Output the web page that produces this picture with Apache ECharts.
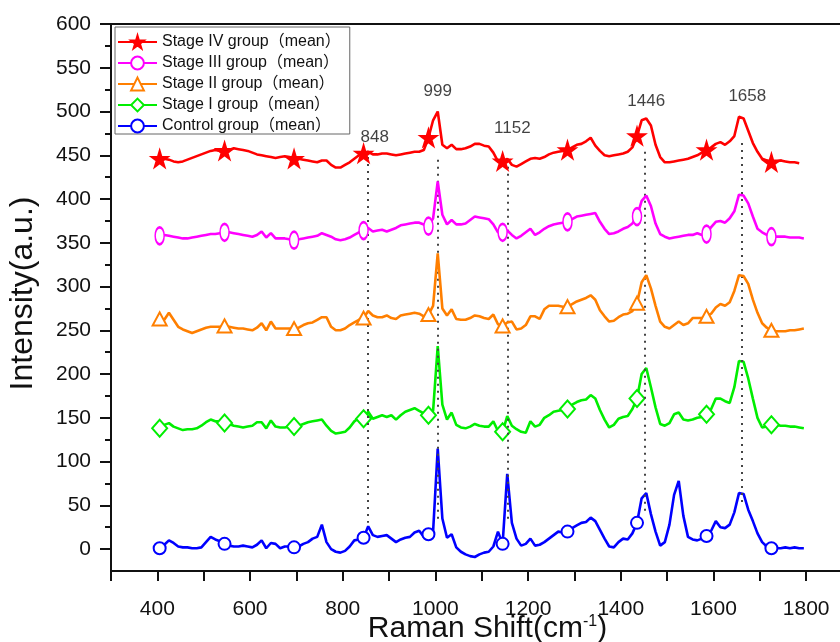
<!DOCTYPE html>
<html><head><meta charset="utf-8">
<script src="https://cdn.jsdelivr.net/npm/echarts@6/dist/echarts.min.js"></script>
<style>html,body{margin:0;padding:0;background:#fff}#c{width:840px;height:642px}</style>
</head><body><div id="c"></div>
<script>
// Raman shift sample positions (cm-1)
const shift = [
405,415,425,435,445,455,465,475,485,495,
505,515,525,535,545,555,565,575,585,595,
605,615,625,635,645,655,665,675,685,695,
705,715,725,735,745,755,765,775,785,795,
805,815,825,835,845,855,865,875,885,895,
905,915,925,935,945,955,965,975,985,995,
1005,1015,1025,1035,1045,1055,1065,1075,1085,1095,
1105,1115,1125,1135,1145,1155,1165,1175,1185,1195,
1205,1215,1225,1235,1245,1255,1265,1275,1285,1295,
1305,1315,1325,1335,1345,1355,1365,1375,1385,1395,
1405,1415,1425,1435,1445,1455,1465,1475,1485,1495,
1505,1515,1525,1535,1545,1555,1565,1575,1585,1595,
1605,1615,1625,1635,1645,1655,1665,1675,1685,1695,
1705,1715,1725,1735,1745,1755,1765,1775,1785,1795];

const stageIV = [
446,446,445,443,442,443,445,447,449,451,
453,455,456,455,455,456,458,457,456,455,
453,451,450,449,448,447,448,449,448,446,
446,445,444,443,442,444,444,439,436,436,
439,442,446,450,452,454,451,451,452,452,
451,450,451,452,453,454,454,456,470,490,
500,462,458,462,457,457,458,460,463,463,
461,460,453,443,443,446,439,437,440,443,
446,447,446,448,451,453,454,455,456,459,
462,463,466,470,461,455,450,449,450,451,
452,454,459,472,490,492,484,462,448,442,
442,443,444,445,446,448,450,453,456,459,
463,465,462,466,472,494,492,478,464,454,
446,444,442,443,444,443,442,442,441,null];

const stageIII = [
358,359,358,357,356,355,355,356,357,358,
359,360,360,361,362,362,361,360,359,358,
357,359,363,356,361,355,355,355,354,353,
354,355,356,357,358,361,359,357,354,353,
354,356,359,362,364,367,363,364,365,363,
365,367,370,371,372,373,373,371,369,378,
420,382,371,376,371,371,372,376,380,379,
378,377,371,362,362,364,359,355,358,362,
366,359,362,366,369,371,372,373,374,377,
380,381,382,383,384,374,366,360,361,363,
366,368,372,380,398,404,392,372,360,357,
355,356,357,358,359,359,361,359,360,368,
374,375,373,378,386,405,404,395,380,366,
362,359,357,357,357,357,356,356,356,355];

const stageII = [
263,262,270,262,254,251,249,247,249,251,
253,254,254,254,255,254,253,252,252,251,
250,253,258,250,260,252,252,252,252,252,
253,256,258,259,262,265,265,254,250,250,
252,256,259,262,264,272,267,265,265,267,
264,263,267,268,269,270,269,266,268,278,
338,275,267,274,263,262,262,264,267,266,
264,263,268,257,255,259,260,251,252,256,
266,266,263,274,278,278,278,277,277,280,
283,285,287,290,285,273,266,260,261,265,
268,269,272,281,305,313,298,278,260,254,
252,256,260,256,258,264,264,264,266,269,
276,280,278,282,295,313,312,303,285,270,
258,253,250,249,249,249,250,250,251,252];

const stageI = [
138,142,144,140,138,136,137,137,138,141,
145,148,146,146,144,143,141,140,139,140,
141,145,145,138,147,140,139,139,140,140,
141,143,145,146,147,148,141,135,132,133,
134,139,146,150,149,157,149,151,153,151,
153,148,153,157,159,161,158,155,153,158,
232,165,148,156,142,139,138,140,143,141,
140,140,146,135,134,152,141,137,134,133,
146,140,142,150,153,157,158,159,160,165,
168,170,171,176,172,159,148,139,142,149,
151,152,160,172,200,207,185,162,143,141,
144,154,156,148,147,148,150,151,154,160,
172,172,169,167,185,215,214,195,172,150,
139,140,142,142,141,141,140,140,139,138];

const control = [
1,5,10,7,3,2,2,1,1,2,
8,14,11,9,6,4,3,3,4,3,
2,5,10,1,7,6,1,3,3,2,
3,6,8,12,14,28,8,0,-3,-4,
-2,3,10,11,13,26,16,14,15,16,
12,8,11,13,14,19,21,14,17,20,
115,35,13,17,2,-3,-6,-8,-9,-6,
-4,-3,3,20,6,86,30,12,4,6,
12,4,5,8,12,16,20,19,20,24,
27,30,31,36,32,22,12,3,2,8,
12,11,18,30,58,64,40,20,4,8,
28,62,78,38,14,11,10,12,15,21,
32,25,24,28,42,64,63,45,32,18,
8,3,1,1,1,2,1,2,1,1];

const seriesNames = ['Stage IV group（mean）','Stage III group（mean）','Stage II group（mean）','Stage I group（mean）','Control group（mean）'];
const seriesColors = ['#ff0000','#ff00ff','#ff7f00','#00ee00','#0000ff'];
const markerIdx = [0,14,29,44,58,74,88,103,118,132];

const peakPos = [855,1006,1157,1452,1660];
const peakTop = [448,445,437,454,464];
const peakBottom = [30,30,33,41,50];
const peakText = ['848','999','1152','1446','1658'];
const peakLabelX = [869,1005,1166,1455,1673];
const peakLabelY = [471,523,481,512,517];

const yMajor = [0,50,100,150,200,250,300,350,400,450,500,550,600];
const yMinor = [25,75,125,175,225,275,325,375,425,475,525,575];
const xLabels = [400,600,800,1000,1200,1400,1600,1800];

const FONT = 'Liberation Sans, Arial, "Noto Sans CJK SC", sans-serif';
const STAR = 'path://M50,0 L61,35 L98,35 L68,57 L79,91 L50,70 L21,91 L32,57 L2,35 L39,35 Z';
const ELLIPSE = 'path://M50,0 C77.6,0 100,22.4 100,50 C100,77.6 77.6,100 50,100 C22.4,100 0,77.6 0,50 C0,22.4 22.4,0 50,0 Z';
const symbols = [STAR, ELLIPSE, 'path://M50,0 L100,90 L0,90 Z', 'path://M50,0 L100,50 L50,100 L0,50 Z', ELLIPSE];
const symbolSizes = [[16,16],[9,17],[14,13],[15,17],[12,12]];
const fills = ['#ff0000','#fff','#fff','#fff','#fff'];

const allVals = [stageIV, stageIII, stageII, stageI, control];

function build(vals){
  const out = [];
  vals.forEach((v,i)=>{
    if (v === null) return;
    if (markerIdx.indexOf(i) >= 0) out.push([shift[i], v]);
    else out.push({value:[shift[i], v], symbol:'none'});
  });
  return out;
}

const series = allVals.map((vals,k)=>({
  name: seriesNames[k], type:'line', data: build(vals),
  symbol: symbols[k], symbolSize: symbolSizes[k], showAllSymbol: true,
  symbolKeepAspect: false,
  lineStyle:{color: seriesColors[k], width: 2.6},
  itemStyle:{color: fills[k], borderColor: seriesColors[k], borderWidth: 2},
  emphasis:{disabled:true}, z: 3 + (4-k)
}));

series.push({
  type:'scatter', name:'peaks', symbol:'circle', symbolSize:0, silent:true,
  data: peakText.map((t,i)=>({value:[peakLabelX[i], peakLabelY[i]], name:t})),
  label:{show:true, position:'inside', formatter:'{b}', fontSize:17, color:'#111', fontFamily:FONT},
  markLine:{
    silent:true, symbol:['none','none'], label:{show:false},
    lineStyle:{type:[2,5], color:'#444', width:2},
    data: peakPos.map((p,i)=>[{coord:[p, peakTop[i]]},{coord:[p, peakBottom[i]]}])
  },
  z: 2
});

const plain = v => String(v);
const xLabelFmt = v => (xLabels.indexOf(v) >= 0 ? String(v) : '');

const chart = echarts.init(document.getElementById('c'));
chart.setOption({
  animation:false,
  backgroundColor:'#fff',
  grid:{left:111, right:0, top:24, bottom:71, containLabel:false, outerBoundsMode:'none'},
  legend:{
    orient:'vertical', left:115, top:27, data: seriesNames,
    itemWidth:39, itemHeight:16, itemGap:5, padding:[7,9,0,2],
    borderColor:'#666', borderWidth:1, backgroundColor:'#fff',
    textStyle:{fontSize:16, color:'#111', fontFamily:FONT}
  },
  xAxis:[{
    type:'value', min:300, max:1873, interval:100, position:'bottom',
    name:'Raman Shift(cm{sup|-1})', nameLocation:'middle', nameGap:43, nameMoveOverlap:false,
    nameTextStyle:{fontSize:30, color:'#111', fontFamily:FONT, padding:[0,0,0,24],
      rich:{sup:{fontSize:16, verticalAlign:'top', padding:[0,0,13,0], fontFamily:FONT, color:'#111'}}},
    axisLine:{show:true, onZero:false, lineStyle:{color:'#111', width:2}},
    axisTick:{show:true, inside:false, length:10, lineStyle:{color:'#111', width:2}},
    axisLabel:{show:true, formatter:xLabelFmt, showMaxLabel:false, fontSize:21, color:'#111', margin:28, fontFamily:FONT},
    splitLine:{show:false}
  },{
    type:'value', min:300, max:1873, position:'top',
    axisLine:{show:true, onZero:false, lineStyle:{color:'#111', width:2}},
    axisTick:{show:false}, axisLabel:{show:false}, splitLine:{show:false}
  }],
  yAxis:[{
    type:'value', min:-25, max:600, position:'left',
    name:'Intensity(a.u.)', nameLocation:'middle', nameGap:72, nameMoveOverlap:false,
    nameTextStyle:{fontSize:32, color:'#111', fontFamily:FONT, padding:[0,0,0,8]},
    axisLine:{show:true, onZero:false, lineStyle:{color:'#111', width:2}},
    axisTick:{show:true, customValues:yMajor, length:11, lineStyle:{color:'#111', width:2}},
    axisLabel:{show:true, customValues:yMajor, formatter:plain, fontSize:21, color:'#111', margin:20, fontFamily:FONT},
    splitLine:{show:false}
  },{
    type:'value', min:-25, max:600, position:'left',
    axisLine:{show:false, onZero:false},
    axisTick:{show:true, customValues:yMinor, length:6, lineStyle:{color:'#111', width:2}},
    axisLabel:{show:false}, splitLine:{show:false}
  }],
  series: series
});
</script></body></html>
